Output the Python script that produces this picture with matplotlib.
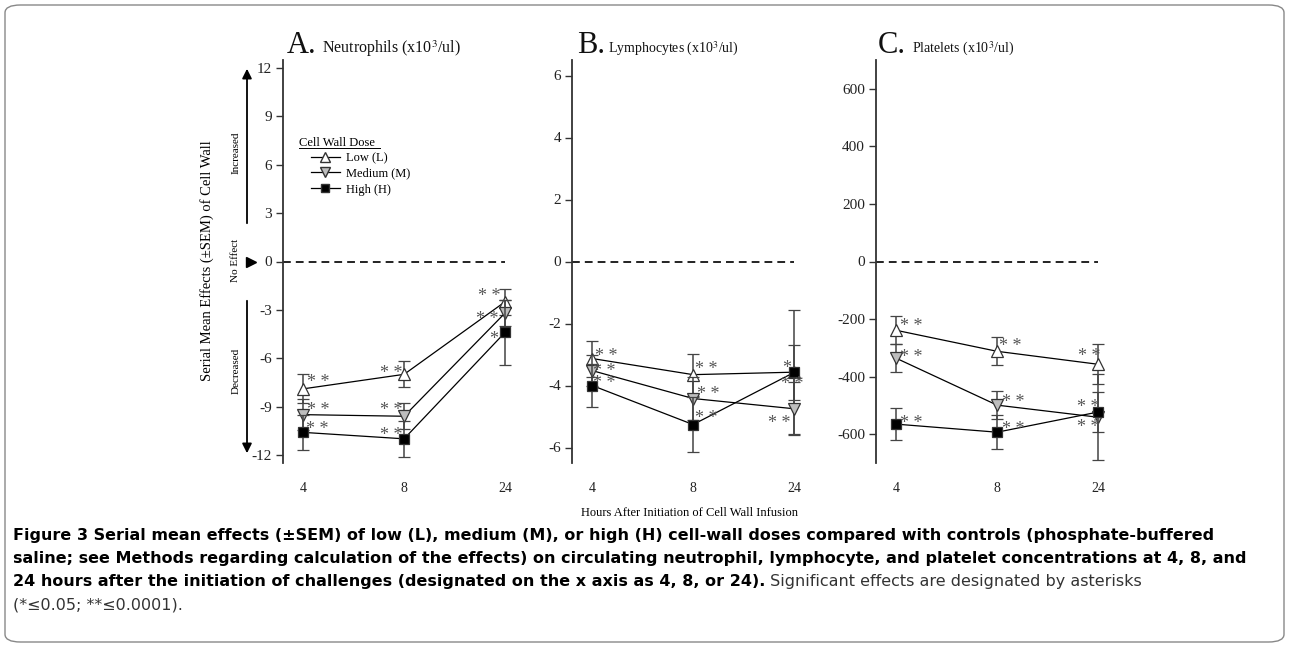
import matplotlib
matplotlib.use('Agg')
import numpy as np
import matplotlib.pyplot as plt
from matplotlib.patches import FancyBboxPatch, FancyArrowPatch
from matplotlib.lines import Line2D

plt.rcParams['font.family'] = ['Liberation Serif', 'DejaVu Serif']
plt.rcParams['mathtext.fontset'] = 'stix'

W, H = 1290, 647

# ---- data ----
hours = ['4', '8', '24']
doses = ['Low (L)', 'Medium (M)', 'High (H)']

neut_low = [-7.9, -7.0, -2.5]
neut_low_sem = [0.9, 0.8, 0.8]
neut_med = [-9.5, -9.6, -3.2]
neut_med_sem = [0.95, 0.8, 0.8]
neut_high = [-10.6, -11.0, -4.4]
neut_high_sem = [1.1, 1.1, 2.0]
neut_sig = [['**', '**', '**'], ['**', '**', '**'], ['**', '**', '*']]

lymph_low = [-3.13, -3.65, -3.57]
lymph_low_sem = [0.58, 0.68, 2.0]
lymph_med = [-3.52, -4.42, -4.75]
lymph_med_sem = [0.5, 0.7, 0.85]
lymph_high = [-4.0, -5.26, -3.58]
lymph_high_sem = [0.68, 0.9, 0.9]
lymph_sig = [['**', '**', '*'], ['**', '**', '**'], ['**', '**', '**']]

plt_low = [-239, -312, -357]
plt_low_sem = [48, 48, 70]
plt_med = [-336, -499, -541]
plt_med_sem = [48, 48, 150]
plt_high = [-565, -593, -523]
plt_high_sem = [55, 60, 70]
plt_sig = [['**', '**', '**'], ['**', '**', '**'], ['**', '**', '**']]

# ---- styling ----
markers = ['^', 'v', 's']
fills = ['white', '#bdbdbd', 'black']
msizes = [8.5, 8.5, 7]

# asterisk offsets in pixels (dx, dy) per series / hour
star_off_a = [[(15, 9), (-13, 4), (-16, 8)],
              [(15, 7), (-13, 9), (-18, -3)],
              [(14, 6), (-13, 6), (-11, -4)]]
star_off_b = [[(14, 5), (13, 8), (-7, 7)],
              [(12, 2), (15, 7), (-15, -12)],
              [(12, 5), (13, 9), (-2, -9)]]
star_off_c = [[(15, 7), (13, 8), (-9, 11)],
              [(15, 4), (16, 6), (-10, -7)],
              [(15, 4), (16, 6), (-10, 8)]]


def fx(px):
    return px / W


def fy(py):
    return 1 - py / H


fig = plt.figure(figsize=(W / 100, H / 100), dpi=100)

panels = [
    dict(left=283, ylim=(-12.5, 12.5), yticks=[12, 9, 6, 3, 0, -3, -6, -9, -12],
         series=[(neut_low, neut_low_sem), (neut_med, neut_med_sem), (neut_high, neut_high_sem)],
         sig=neut_sig, off=star_off_a),
    dict(left=572, ylim=(-6.5, 6.5), yticks=[6, 4, 2, 0, -2, -4, -6],
         series=[(lymph_low, lymph_low_sem), (lymph_med, lymph_med_sem), (lymph_high, lymph_high_sem)],
         sig=lymph_sig, off=star_off_b),
    dict(left=876, ylim=(-700, 700), yticks=[600, 400, 200, 0, -200, -400, -600],
         series=[(plt_low, plt_low_sem), (plt_med, plt_med_sem), (plt_high, plt_high_sem)],
         sig=plt_sig, off=star_off_c),
]

axes = []
for p in panels:
    ax = fig.add_axes([fx(p['left']), fy(463), 222 / W, 403 / H])
    x = np.arange(len(hours))
    ax.axhline(0, color='#222222', lw=1.4, ls=(0, (4, 2.6)), zorder=1)
    for i, (vals, sem) in enumerate(p['series']):
        cont = ax.errorbar(x, vals, yerr=sem, color='black', lw=0.9,
                           marker=markers[i], ms=msizes[i], mfc=fills[i], mec='#333333',
                           mew=0.9, ecolor='#444444', elinewidth=1.1, capsize=4,
                           capthick=1.0, zorder=3 + i)
        for art in cont.get_children():
            art.set_clip_on(False)
        for j in range(len(hours)):
            dx, dy = p['off'][i][j]
            ax.annotate(p['sig'][i][j].replace('**', '* *'), (x[j], vals[j]),
                        xytext=(dx, dy - 3), textcoords='offset pixels',
                        ha='center', va='center', fontsize=13, color='#555555',
                        annotation_clip=False, zorder=6)
    ax.set_xlim(-0.2, 2.0)
    ax.set_ylim(*p['ylim'])
    ax.set_yticks(p['yticks'])
    ax.set_yticklabels([str(t) for t in p['yticks']])
    ax.set_xticks(x)
    ax.set_xticklabels(hours)
    for s in ['top', 'right', 'bottom']:
        ax.spines[s].set_visible(False)
    ax.spines['left'].set_color('#333333')
    ax.spines['left'].set_linewidth(1.3)
    ax.tick_params(axis='y', direction='out', length=5, width=1, color='#333333',
                   labelsize=11, pad=3, labelcolor='#222222')
    ax.tick_params(axis='x', length=0, labelsize=10, pad=14, labelcolor='#222222')
    axes.append(ax)

# panel titles
titles = [(287, 322, 'Neutrophils (x10$^3$/ul)', 11.5),
          (577, 608, 'Lymphocytes (x10$^3$/ul)', 10),
          (878, 912, 'Platelets (x10$^3$/ul)', 10)]
for letter, (lx, tx, t, fs) in zip(['A.', 'B.', 'C.'], titles):
    fig.text(fx(lx), fy(53), letter, fontsize=22, va='baseline', ha='left', color='#111111')
    fig.text(fx(tx), fy(53), t, fontsize=fs, va='baseline', ha='left', color='#111111')

# legend in panel A
fig.text(fx(299), fy(146), 'Cell Wall Dose', fontsize=9, va='baseline', ha='left')
fig.add_artist(Line2D([fx(299), fx(380)], [fy(148), fy(148)], color='black', lw=0.7,
                      transform=fig.transFigure))
handles = [Line2D([], [], color='black', lw=0.9, marker=markers[i], ms=msizes[i] - 1.5,
                  mfc=fills[i], mec='#333333') for i in range(3)]
axes[0].legend(handles, doses, loc='upper left', bbox_to_anchor=(fx(311), fy(152)),
               bbox_transform=fig.transFigure, frameon=False, fontsize=9,
               handlelength=2.3, handletextpad=0.5, labelspacing=0.3,
               borderpad=0, borderaxespad=0)

# left annotations
fig.add_artist(FancyArrowPatch((fx(247), fy(226)), (fx(247), fy(66)), transform=fig.transFigure,
                               arrowstyle='-|>', mutation_scale=14, color='black', lw=1.3))
fig.add_artist(FancyArrowPatch((fx(247), fy(298)), (fx(247), fy(456)), transform=fig.transFigure,
                               arrowstyle='-|>', mutation_scale=14, color='black', lw=1.3))
fig.add_artist(Line2D([fx(251)], [fy(262)], marker='>', ms=7, color='black',
                      transform=fig.transFigure))
for lbl, yy in [('Increased', 153), ('No Effect', 260), ('Decreased', 371)]:
    fig.text(fx(236), fy(yy), lbl, rotation=90, ha='center', va='center', fontsize=8)
fig.text(fx(207), fy(261), 'Serial Mean Effects (\u00b1SEM) of Cell Wall', rotation=90,
         ha='center', va='center', fontsize=10.5)

fig.text(fx(690), fy(513), 'Hours After Initiation of Cell Wall Infusion',
         ha='center', va='center', fontsize=9)

# caption
cap_font = dict(family=['DejaVu Sans', 'Liberation Sans'])
line1 = ('Figure 3 Serial mean effects (\u00b1SEM) of low (L), medium (M), or high (H) '
         'cell-wall doses compared with controls (phosphate-buffered')
line2 = ('saline; see Methods regarding calculation of the effects) on circulating neutrophil, '
         'lymphocyte, and platelet concentrations at 4, 8, and')
line3b = '24 hours after the initiation of challenges (designated on the x axis as 4, 8, or 24).'
line3n = ' Significant effects are designated by asterisks'
line4 = '(*\u22640.05; **\u22640.0001).'

renderer = fig.canvas.get_renderer()
probe = fig.text(0, 0, line1, fontsize=10, weight='bold', **cap_font)
wpx = probe.get_window_extent(renderer).width
probe.remove()
cap_fs = 10 * 1199 / wpx

cap_y = [540, 563, 586, 609]
fig.text(fx(13), fy(cap_y[0]), line1, fontsize=cap_fs, weight='bold', va='baseline', **cap_font)
fig.text(fx(13), fy(cap_y[1]), line2, fontsize=cap_fs, weight='bold', va='baseline', **cap_font)
t3 = fig.text(fx(13), fy(cap_y[2]), line3b, fontsize=cap_fs, weight='bold', va='baseline', **cap_font)
w3 = t3.get_window_extent(renderer).width
fig.text(fx(13 + w3), fy(cap_y[2]), line3n, fontsize=cap_fs, color='#333333', va='baseline', **cap_font)
fig.text(fx(13), fy(cap_y[3]), line4, fontsize=cap_fs, color='#333333', va='baseline', **cap_font)

# rounded frame
fig.add_artist(FancyBboxPatch((fx(5), fy(642)), fx(1279), (637) / H,
                              boxstyle='round,pad=0,rounding_size=0.012',
                              transform=fig.transFigure, fill=False, ec='#888888', lw=1.0))

fig.savefig('out.png', dpi=100)
